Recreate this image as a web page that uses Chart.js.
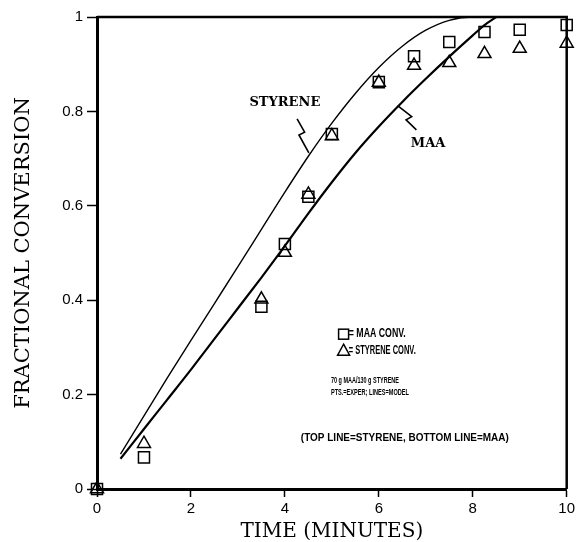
<!DOCTYPE html>
<html>
<head>
<meta charset="utf-8">
<script src="https://cdn.jsdelivr.net/npm/chart.js@4.4.0/dist/chart.umd.min.js"></script>
<style>
  html, body { margin: 0; padding: 0; background: #ffffff; }
  #wrap { width: 576px; height: 542px; }
</style>
</head>
<body>
<div id="wrap"><canvas id="c" width="576" height="542"></canvas></div>
<script>
// Measured conversions (minutes vs. fraction converted)
const sampleTime   = [0, 1, 3.5, 4, 4.5, 5, 6, 6.75, 7.5, 8.25, 9, 10];
const maaConv      = [0, 0.067, 0.386, 0.519, 0.619, 0.752, 0.862, 0.917, 0.947, 0.968, 0.973, 0.983];
const styreneConv  = [0, 0.096, 0.402, 0.501, 0.624, 0.748, 0.861, 0.897, 0.903, 0.922, 0.933, 0.944];

// Model predictions
const styreneModelTime = [0.5, 1, 1.5, 2, 2.5, 3, 3.5, 4, 4.5, 5, 5.5, 6, 6.5, 7, 7.5, 8, 8.5];
const styreneModel     = [0.074, 0.155, 0.236, 0.315, 0.393, 0.471, 0.55, 0.629, 0.705, 0.775, 0.838, 0.893, 0.938, 0.972, 0.993, 1.0, 1.0];
const maaModelTime     = [0.5, 1, 1.5, 2, 2.5, 3, 3.5, 4, 4.5, 5, 5.5, 6, 6.5, 7, 7.5, 8, 8.25, 8.5];
const maaModel         = [0.064, 0.127, 0.19, 0.253, 0.318, 0.383, 0.448, 0.515, 0.584, 0.65, 0.712, 0.768, 0.82, 0.869, 0.916, 0.961, 0.983, 1.0];

// Axis ticks
const xTickValues = [0, 2, 4, 6, 8, 10];
const yTickValues = [0, 0.2, 0.4, 0.6, 0.8, 1];

const pairs = (xs, ys) => xs.map((x, i) => ({ x: x, y: ys[i] }));

const SANS = '"Liberation Sans", Arial, sans-serif';
const SERIF = '"DejaVu Serif", "Liberation Serif", serif';

// Frame on the top and right sides of the plot area
const framePlugin = {
  id: 'frame',
  afterDatasetsDraw(chart) {
    const { ctx, chartArea: a } = chart;
    ctx.save();
    ctx.strokeStyle = '#000';
    ctx.lineWidth = 2.5;
    ctx.beginPath();
    ctx.moveTo(a.left, a.top);
    ctx.lineTo(a.right, a.top);
    ctx.lineTo(a.right, a.bottom);
    ctx.stroke();
    ctx.restore();
  }
};

// Text squeezed horizontally to a condensed width
function condensedText(ctx, text, x, y, width) {
  const natural = ctx.measureText(text).width;
  const k = width / natural;
  ctx.save();
  ctx.translate(x, y);
  ctx.scale(k, 1);
  ctx.fillText(text, 0, 0);
  ctx.restore();
}

// Curve labels, leaders, symbol key and notes
const notesPlugin = {
  id: 'notes',
  afterDraw(chart) {
    const { ctx } = chart;
    const sx = chart.scales.x, sy = chart.scales.y;
    const P = (x, y) => [sx.getPixelForValue(x), sy.getPixelForValue(y)];
    ctx.save();
    ctx.fillStyle = '#000';
    ctx.strokeStyle = '#000';

    // curve names
    ctx.font = 'bold 13px ' + SERIF;
    ctx.textAlign = 'center';
    ctx.textBaseline = 'middle';
    let p = P(4.0, 0.818);
    ctx.fillText('STYRENE', p[0], p[1]);
    p = P(7.05, 0.731);
    ctx.fillText('MAA', p[0], p[1]);

    // zig-zag leaders
    const leader = (pts) => {
      ctx.beginPath();
      pts.forEach((q, i) => {
        const r = P(q[0], q[1]);
        if (i === 0) ctx.moveTo(r[0], r[1]); else ctx.lineTo(r[0], r[1]);
      });
      ctx.lineWidth = 1.6;
      ctx.stroke();
    };
    leader([[4.26, 0.784], [4.42, 0.756], [4.30, 0.750], [4.51, 0.712]]);
    leader([[6.40, 0.812], [6.70, 0.789], [6.58, 0.782], [6.80, 0.761]]);

    // symbol key
    ctx.lineWidth = 1.5;
    p = P(5.25, 0.328);
    ctx.strokeRect(p[0] - 5, p[1] - 5, 10, 10);
    p = P(5.25, 0.294);
    ctx.beginPath();
    ctx.moveTo(p[0], p[1] - 6);
    ctx.lineTo(p[0] + 6, p[1] + 5);
    ctx.lineTo(p[0] - 6, p[1] + 5);
    ctx.closePath();
    ctx.stroke();

    ctx.textAlign = 'left';
    ctx.font = 'bold 12px ' + SANS;
    p = P(5.36, 0.328);
    condensedText(ctx, '= MAA CONV.', p[0], p[1], 57);
    p = P(5.36, 0.294);
    condensedText(ctx, '= STYRENE CONV.', p[0], p[1], 67);

    ctx.font = 'bold 8.5px ' + SANS;
    p = P(4.98, 0.229);
    condensedText(ctx, '70 g MAA/130 g STYRENE', p[0], p[1], 68);
    p = P(4.98, 0.205);
    condensedText(ctx, 'PTS.=EXPER; LINES=MODEL', p[0], p[1], 78);

    ctx.font = 'bold 10.5px ' + SANS;
    p = P(4.34, 0.108);
    condensedText(ctx, '(TOP LINE=STYRENE, BOTTOM LINE=MAA)', p[0], p[1], 208);
    ctx.restore();
  }
};

new Chart(document.getElementById('c'), {
  type: 'line',
  data: {
    datasets: [
      {
        label: 'MAA conv.',
        data: pairs(sampleTime, maaConv),
        showLine: false,
        pointStyle: 'rect',
        pointRadius: 7.8,
        pointBorderWidth: 1.5,
        pointBorderColor: '#000',
        pointBackgroundColor: 'rgba(0,0,0,0)',
        clip: false
      },
      {
        label: 'Styrene conv.',
        data: pairs(sampleTime, styreneConv),
        showLine: false,
        pointStyle: 'triangle',
        pointRadius: 7.5,
        pointBorderWidth: 1.5,
        pointBorderColor: '#000',
        pointBackgroundColor: 'rgba(0,0,0,0)',
        clip: false
      },
      {
        label: 'Styrene model',
        data: pairs(styreneModelTime, styreneModel),
        borderColor: '#000',
        borderWidth: 1.4,
        pointRadius: 0,
        cubicInterpolationMode: 'monotone',
        fill: false
      },
      {
        label: 'MAA model',
        data: pairs(maaModelTime, maaModel),
        borderColor: '#000',
        borderWidth: 2.2,
        pointRadius: 0,
        cubicInterpolationMode: 'monotone',
        fill: false
      }
    ]
  },
  options: {
    responsive: false,
    animation: false,
    devicePixelRatio: 1,
    layout: { padding: { left: 0, right: 7, top: 17, bottom: 0 } },
    plugins: { legend: { display: false }, tooltip: { enabled: false } },
    scales: {
      x: {
        type: 'linear',
        min: 0,
        max: 10,
        afterBuildTicks: (s) => { s.ticks = xTickValues.map(v => ({ value: v })); },
        afterFit: (s) => { s.height = 53; s.paddingLeft = 0; s.paddingRight = 0; },
        ticks: { color: '#000', font: { family: SANS, size: 15 }, padding: 3, maxRotation: 0,
                 callback: (v) => String(v) },
        grid: { drawOnChartArea: false, drawTicks: true, tickLength: 8, tickColor: '#000', tickWidth: 1.5 },
        border: { display: true, color: '#000', width: 3 },
        title: {
          display: true,
          text: 'TIME (MINUTES)',
          color: '#000',
          font: { family: SERIF, size: 20, lineHeight: 1 },
          padding: { top: 0, bottom: 0 }
        }
      },
      y: {
        type: 'linear',
        min: 0,
        max: 1,
        afterBuildTicks: (s) => { s.ticks = yTickValues.map(v => ({ value: v })); },
        afterFit: (s) => { s.width = 97; s.paddingTop = 0; s.paddingBottom = 0; },
        ticks: { color: '#000', font: { family: SANS, size: 15 }, padding: 4,
                 callback: (v) => String(v) },
        grid: { drawOnChartArea: false, drawTicks: true, tickLength: 10, tickColor: '#000', tickWidth: 1.5 },
        border: { display: true, color: '#000', width: 3 },
        title: {
          display: true,
          text: 'FRACTIONAL CONVERSION',
          color: '#000',
          font: { family: SERIF, size: 21, lineHeight: 1 },
          padding: { top: 13, bottom: 0 }
        }
      }
    }
  },
  plugins: [framePlugin, notesPlugin]
});
</script>
</body>
</html>
